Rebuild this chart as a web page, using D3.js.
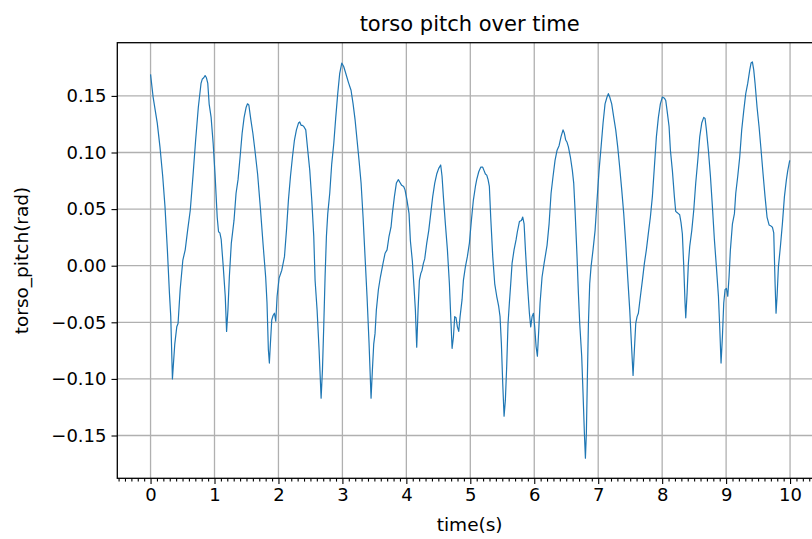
<!DOCTYPE html>
<html>
<head>
<meta charset="utf-8">
<script src="https://cdn.jsdelivr.net/npm/d3@7/dist/d3.min.js"></script>
<style>
  html, body { margin: 0; padding: 0; background: #fff; }
  svg { display: block; }
  text { font-family: "DejaVu Sans", sans-serif; fill: #000; }
</style>
</head>
<body>
<svg id="chart" width="812" height="539"></svg>
<script>
// Sample times (s)
const timeValues = [
  0.000, 0.040, 0.105, 0.147, 0.190, 0.226, 0.263, 0.295, 0.316, 0.342,
  0.379, 0.410, 0.430, 0.463, 0.505, 0.542, 0.579, 0.621, 0.663, 0.705,
  0.747, 0.789, 0.810, 0.832, 0.853, 0.874, 0.895, 0.916, 0.947, 0.979,
  1.010, 1.042, 1.063, 1.084, 1.105, 1.137, 1.168, 1.189, 1.210, 1.232,
  1.263, 1.305, 1.337, 1.368, 1.400, 1.432, 1.463, 1.495, 1.516, 1.537,
  1.568, 1.600, 1.632, 1.674, 1.716, 1.758, 1.800, 1.821, 1.842, 1.858,
  1.874, 1.895, 1.916, 1.937, 1.958, 1.979, 2.010, 2.052, 2.094, 2.125,
  2.156, 2.188, 2.219, 2.250, 2.281, 2.313, 2.333, 2.354, 2.375, 2.396,
  2.427, 2.458, 2.490, 2.521, 2.552, 2.573, 2.604, 2.635, 2.667, 2.688,
  2.708, 2.729, 2.750, 2.771, 2.802, 2.833, 2.865, 2.896, 2.927, 2.958,
  2.990, 3.020, 3.052, 3.094, 3.135, 3.167, 3.198, 3.229, 3.260, 3.292,
  3.323, 3.354, 3.385, 3.417, 3.448, 3.469, 3.490, 3.510, 3.531, 3.563,
  3.594, 3.615, 3.635, 3.667, 3.698, 3.729, 3.760, 3.781, 3.813, 3.844,
  3.875, 3.896, 3.927, 3.958, 3.979, 4.010, 4.042, 4.063, 4.094, 4.120,
  4.141, 4.162, 4.183, 4.204, 4.225, 4.245, 4.266, 4.287, 4.319, 4.350,
  4.381, 4.412, 4.444, 4.475, 4.506, 4.537, 4.558, 4.579, 4.610, 4.642,
  4.673, 4.694, 4.715, 4.736, 4.756, 4.777, 4.798, 4.819, 4.840, 4.871,
  4.892, 4.923, 4.954, 4.986, 5.017, 5.048, 5.080, 5.100, 5.132, 5.163,
  5.194, 5.215, 5.236, 5.257, 5.278, 5.298, 5.319, 5.351, 5.382, 5.413,
  5.434, 5.444, 5.465, 5.486, 5.507, 5.528, 5.548, 5.569, 5.590, 5.611,
  5.632, 5.653, 5.684, 5.716, 5.736, 5.768, 5.799, 5.820, 5.841, 5.862,
  5.893, 5.924, 5.945, 5.966, 5.987, 6.007, 6.028, 6.049, 6.070, 6.091,
  6.122, 6.154, 6.200, 6.232, 6.263, 6.294, 6.325, 6.357, 6.388, 6.419,
  6.450, 6.471, 6.492, 6.513, 6.534, 6.565, 6.596, 6.617, 6.638, 6.669,
  6.690, 6.711, 6.742, 6.763, 6.784, 6.800, 6.815, 6.831, 6.847, 6.867,
  6.888, 6.919, 6.951, 6.982, 7.013, 7.045, 7.076, 7.107, 7.138, 7.159,
  7.180, 7.211, 7.243, 7.274, 7.305, 7.336, 7.368, 7.399, 7.430, 7.461,
  7.493, 7.524, 7.545, 7.566, 7.587, 7.608, 7.628, 7.660, 7.691, 7.722,
  7.753, 7.785, 7.816, 7.847, 7.878, 7.910, 7.941, 7.972, 8.004, 8.035,
  8.056, 8.077, 8.108, 8.129, 8.160, 8.191, 8.212, 8.233, 8.254, 8.274,
  8.295, 8.316, 8.338, 8.358, 8.369, 8.390, 8.410, 8.431, 8.463, 8.494,
  8.525, 8.557, 8.588, 8.619, 8.650, 8.671, 8.692, 8.723, 8.755, 8.786,
  8.817, 8.848, 8.880, 8.900, 8.921, 8.942, 8.963, 8.984, 9.005, 9.026,
  9.046, 9.067, 9.099, 9.130, 9.151, 9.182, 9.213, 9.244, 9.276, 9.307,
  9.338, 9.370, 9.390, 9.411, 9.432, 9.453, 9.484, 9.515, 9.547, 9.578,
  9.609, 9.640, 9.672, 9.703, 9.724, 9.745, 9.766, 9.781, 9.797, 9.818,
  9.849, 9.880, 9.912, 9.943, 9.964, 9.995
];

// Torso pitch (rad) at each sample time
const pitchValues = [
  0.169, 0.149, 0.126, 0.105, 0.079, 0.052, 0.014, -0.024, -0.045, -0.100,
  -0.069, -0.054, -0.051, -0.021, 0.005, 0.014, 0.031, 0.049, 0.079, 0.111,
  0.140, 0.161, 0.165, 0.166, 0.168, 0.166, 0.161, 0.143, 0.131, 0.108,
  0.079, 0.043, 0.030, 0.029, 0.023, -0.001, -0.027, -0.058, -0.039, -0.010,
  0.020, 0.040, 0.064, 0.076, 0.096, 0.117, 0.131, 0.140, 0.143, 0.142,
  0.129, 0.117, 0.102, 0.081, 0.052, 0.020, -0.010, -0.033, -0.074, -0.086,
  -0.069, -0.048, -0.044, -0.042, -0.049, -0.027, -0.011, -0.004, 0.008, 0.031,
  0.058, 0.079, 0.096, 0.111, 0.120, 0.126, 0.127, 0.124, 0.124, 0.123,
  0.120, 0.102, 0.084, 0.058, 0.026, -0.013, -0.039, -0.074, -0.117, -0.092,
  -0.054, -0.010, 0.026, 0.046, 0.064, 0.090, 0.108, 0.131, 0.152, 0.170,
  0.179, 0.176, 0.170, 0.162, 0.155, 0.143, 0.129, 0.111, 0.093, 0.073,
  0.043, 0.008, -0.027, -0.069, -0.117, -0.092, -0.069, -0.060, -0.039, -0.021,
  -0.010, -0.004, 0.002, 0.011, 0.014, 0.026, 0.034, 0.046, 0.061, 0.073,
  0.076, 0.074, 0.071, 0.070, 0.067, 0.058, 0.046, 0.022, 0.004, -0.019,
  -0.039, -0.072, -0.039, -0.013, -0.007, -0.004, 0.002, 0.006, 0.020, 0.031,
  0.046, 0.061, 0.073, 0.081, 0.086, 0.089, 0.079, 0.061, 0.037, 0.014,
  -0.016, -0.045, -0.073, -0.063, -0.045, -0.046, -0.054, -0.058, -0.045, -0.030,
  -0.013, -0.001, 0.008, 0.020, 0.040, 0.058, 0.070, 0.076, 0.083, 0.087,
  0.087, 0.084, 0.081, 0.080, 0.076, 0.070, 0.043, 0.008, -0.016, -0.027,
  -0.033, -0.036, -0.045, -0.069, -0.104, -0.133, -0.119, -0.089, -0.051, -0.033,
  -0.016, 0.002, 0.014, 0.023, 0.030, 0.039, 0.040, 0.043, 0.037, 0.014,
  -0.016, -0.042, -0.054, -0.045, -0.042, -0.054, -0.071, -0.080, -0.057, -0.033,
  -0.010, 0.002, 0.018, 0.037, 0.064, 0.079, 0.093, 0.102, 0.106, 0.114,
  0.120, 0.117, 0.111, 0.109, 0.105, 0.096, 0.084, 0.073, 0.049, 0.008,
  -0.024, -0.051, -0.080, -0.113, -0.148, -0.170, -0.148, -0.098, -0.051, -0.016,
  -0.001, 0.014, 0.031, 0.058, 0.084, 0.105, 0.126, 0.143, 0.149, 0.152,
  0.149, 0.143, 0.131, 0.120, 0.105, 0.087, 0.067, 0.046, 0.020, -0.010,
  -0.039, -0.074, -0.097, -0.074, -0.051, -0.045, -0.042, -0.027, -0.013, 0.002,
  0.014, 0.029, 0.043, 0.061, 0.087, 0.114, 0.131, 0.143, 0.149, 0.148,
  0.146, 0.137, 0.123, 0.102, 0.084, 0.061, 0.048, 0.047, 0.046, 0.045,
  0.038, 0.028, -0.001, -0.033, -0.046, -0.024, 0.002, 0.017, 0.031, 0.049,
  0.073, 0.093, 0.114, 0.126, 0.131, 0.130, 0.120, 0.102, 0.079, 0.052,
  0.023, -0.001, -0.027, -0.054, -0.086, -0.063, -0.033, -0.021, -0.020, -0.027,
  -0.010, 0.014, 0.037, 0.046, 0.064, 0.079, 0.096, 0.120, 0.137, 0.152,
  0.161, 0.173, 0.179, 0.180, 0.173, 0.161, 0.140, 0.123, 0.102, 0.081,
  0.061, 0.043, 0.036, 0.035, 0.034, 0.029, -0.016, -0.042, -0.027, -0.001,
  0.017, 0.037, 0.061, 0.076, 0.084, 0.093
];

// Axis ticks
const xTickValues = [0, 1, 2, 3, 4, 5, 6, 7, 8, 9, 10];
const yTickValues = [-0.15, -0.10, -0.05, 0.00, 0.05, 0.10, 0.15];
const titleText = "torso pitch over time";
const xLabelText = "time(s)";
const yLabelText = "torso_pitch(rad)";

const svg = d3.select("#chart");

// Axes box (right edge runs past the canvas)
const plot = { left: 117.3, top: 42.7, bottom: 478.3 };
const xDomain = [-0.52, 10.5];
const pxPerSecond = 63.95;
const plotRight = plot.left + (xDomain[1] - xDomain[0]) * pxPerSecond;

const x = d3.scaleLinear().domain(xDomain).range([plot.left, plotRight]);
const y = d3.scaleLinear().domain([-0.1878, 0.197]).range([plot.bottom, plot.top]);

const gridColor = "#b0b0b0";
const tickFont = 18;
const labelFont = 18.5;

// Grid lines
const grid = svg.append("g");
grid.selectAll("line.vx").data(xTickValues).join("line")
  .attr("x1", d => x(d)).attr("x2", d => x(d))
  .attr("y1", plot.top).attr("y2", plot.bottom)
  .attr("stroke", gridColor).attr("stroke-width", 1.3);
grid.selectAll("line.hy").data(yTickValues).join("line")
  .attr("x1", plot.left).attr("x2", plotRight)
  .attr("y1", d => y(d)).attr("y2", d => y(d))
  .attr("stroke", gridColor).attr("stroke-width", 1.3);

// Data line
const line = d3.line()
  .x((d, i) => x(timeValues[i]))
  .y(d => y(d));
svg.append("path")
  .datum(pitchValues)
  .attr("d", line)
  .attr("fill", "none")
  .attr("stroke", "#1f77b4")
  .attr("stroke-width", 1.2)
  .attr("stroke-linejoin", "round");

// X axis with major and minor ticks
const minorTicks = d3.range(-5, 106).map(v => v / 10).filter(v => v >= xDomain[0] && Math.abs(v - Math.round(v)) > 1e-6);
const xAxisG = svg.append("g").attr("transform", `translate(0,${plot.bottom})`);
xAxisG.call(d3.axisBottom(x).tickValues(minorTicks).tickSize(3.3).tickFormat(""))
  .call(g => g.select(".domain").remove());
const xMajor = svg.append("g").attr("transform", `translate(0,${plot.bottom})`);
xMajor.call(d3.axisBottom(x).tickValues(xTickValues).tickSize(5.8).tickPadding(4).tickFormat(d3.format("d")))
  .call(g => g.select(".domain").remove());
svg.selectAll(".tick line").attr("stroke", "#000").attr("stroke-width", 1.1);
xMajor.selectAll("text").attr("font-size", tickFont).attr("font-family", "DejaVu Sans").attr("fill", "#000");

// Y axis
const fmtY = v => d3.format(".2f")(v).replace("-", "\u2212");
const yAxisG = svg.append("g").attr("transform", `translate(${plot.left},0)`);
yAxisG.call(d3.axisLeft(y).tickValues(yTickValues).tickSize(5.8).tickPadding(5).tickFormat(fmtY))
  .call(g => g.select(".domain").remove());
yAxisG.selectAll("line").attr("stroke", "#000").attr("stroke-width", 1.1);
yAxisG.selectAll("text").attr("font-size", tickFont).attr("font-family", "DejaVu Sans").attr("fill", "#000");

// Frame
svg.append("rect")
  .attr("x", plot.left).attr("y", plot.top)
  .attr("width", plotRight - plot.left).attr("height", plot.bottom - plot.top)
  .attr("fill", "none").attr("stroke", "#000").attr("stroke-width", 1.3);

// Title and axis labels
const midX = (plot.left + plotRight) / 2;
svg.append("text").attr("x", midX).attr("y", 31).attr("text-anchor", "middle")
  .attr("font-size", 21).text(titleText);
svg.append("text").attr("x", midX).attr("y", 531).attr("text-anchor", "middle")
  .attr("font-size", labelFont).text(xLabelText);
svg.append("text")
  .attr("transform", `translate(28,${(plot.top + plot.bottom) / 2}) rotate(-90)`)
  .attr("text-anchor", "middle").attr("font-size", labelFont).text(yLabelText);
</script>
</body>
</html>
